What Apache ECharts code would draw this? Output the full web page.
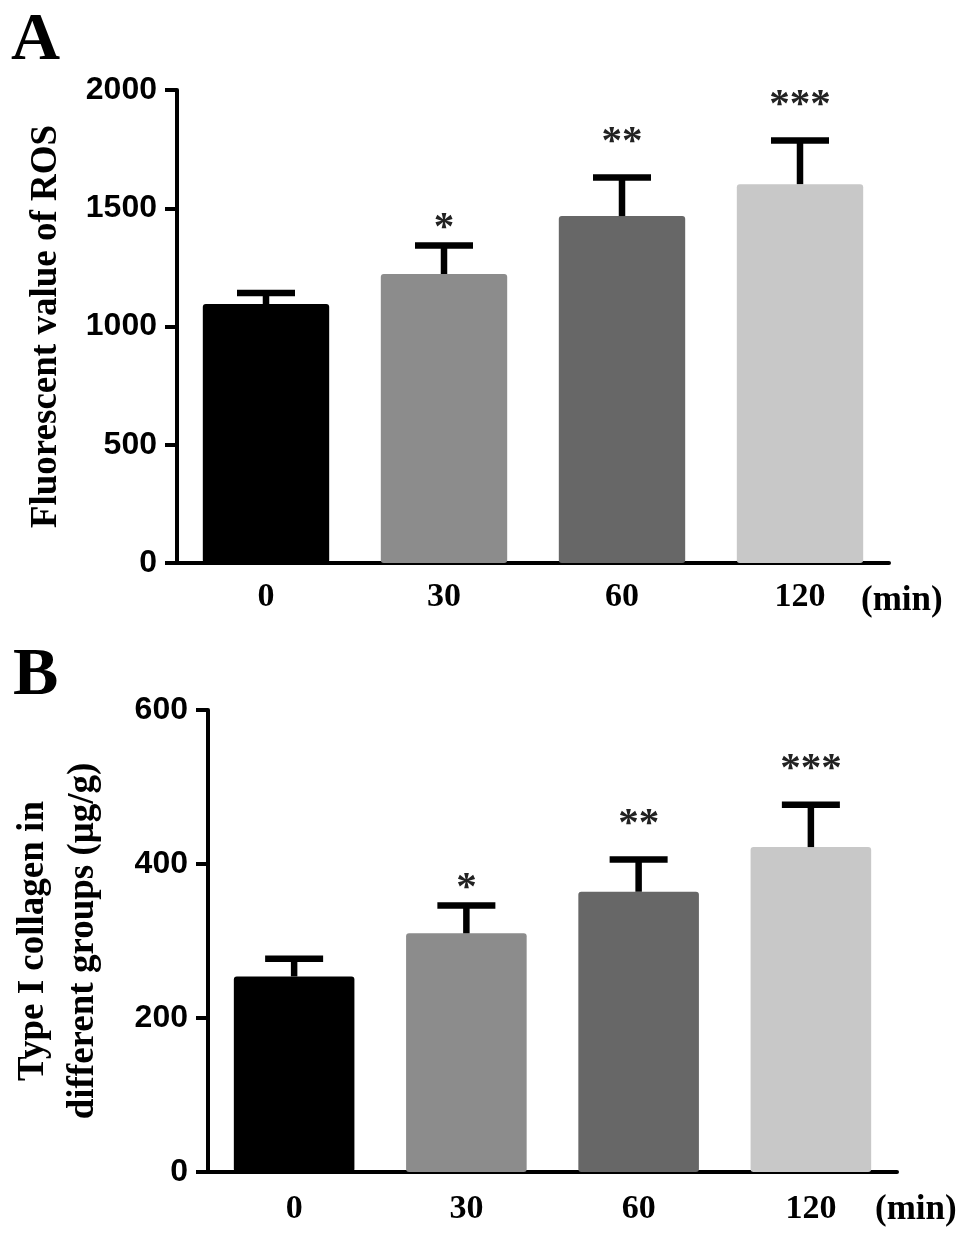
<!DOCTYPE html>
<html>
<head>
<meta charset="utf-8">
<script src="https://cdn.jsdelivr.net/npm/echarts@6/dist/echarts.min.js"></script>
<style>
html,body{margin:0;padding:0;background:#fff;}
#chart{width:969px;height:1239px;}
</style>
</head>
<body>
<div id="chart"></div>
<script>
const categories = ['0', '30', '60', '120'];
const barColors = ['#000000', '#8c8c8c', '#676767', '#c8c8c8'];
const rosValues = [1095, 1222, 1467, 1602];
const rosErrors = [47, 120, 163, 184];
const collagenValues = [254, 310, 364, 422];
const collagenErrors = [23, 36, 42, 55];
const stars = ['', '*', '**', '***'];
const rosTicks = [0, 500, 1000, 1500, 2000];
const collagenTicks = [0, 200, 400, 600];

const serif = '"Liberation Serif", "Times New Roman", serif';
const sans = '"Liberation Sans", Arial, sans-serif';

function errorSeries(idx, values, errors) {
  return {
    type: 'custom',
    xAxisIndex: idx,
    yAxisIndex: idx,
    z: 5,
    data: values.map((v, i) => [i, v, v + errors[i]]),
    renderItem: function (params, api) {
      const base = api.coord([api.value(0), api.value(1)]);
      const top = api.coord([api.value(0), api.value(2)]);
      const s = stars[params.dataIndex];
      const children = [
        {type: 'line', shape: {x1: base[0], y1: base[1], x2: top[0], y2: top[1]},
         style: {stroke: '#000', lineWidth: 6.5}},
        {type: 'line', shape: {x1: top[0] - 29, y1: top[1], x2: top[0] + 29, y2: top[1]},
         style: {stroke: '#000', lineWidth: 6.5}}
      ];
      if (s) {
        children.push({type: 'text', x: top[0], y: top[1] - (s.length > 1 ? 35 : 17),
          style: {text: s, fill: '#222', font: 'bold 41px ' + serif, align: 'center', verticalAlign: 'middle'}});
      }
      return {type: 'group', children: children};
    }
  };
}

const axisLineStyle = {color: '#000', width: 4};

function xAxisFor(i, margin) {
  return {
    type: 'category',
    gridIndex: i,
    data: categories,
    axisLine: {lineStyle: axisLineStyle},
    axisTick: {alignWithLabel: true, length: 9, lineStyle: {width: 4, color: '#000'}},
    axisLabel: {color: '#000', fontFamily: serif, fontWeight: 'bold', fontSize: 34, margin: margin}
  };
}

const option = {
  animation: false,
  backgroundColor: '#fff',
  grid: [
    {left: 177, right: 80, top: 90, bottom: 676},
    {left: 203, right: 72, top: 710, bottom: 67}
  ],
  xAxis: [xAxisFor(0, 17), xAxisFor(1, 20)],
  yAxis: [
    {
      type: 'value', gridIndex: 0, min: 0, max: 2000, interval: 500,
      name: 'Fluorescent value of ROS', nameLocation: 'middle', nameGap: 112, nameRotate: 90,
      nameTextStyle: {color: '#000', fontFamily: serif, fontWeight: 'bold', fontSize: 37},
      axisLine: {show: true, lineStyle: axisLineStyle},
      axisTick: {show: true, length: 12, lineStyle: {width: 4, color: '#000'}},
      splitLine: {show: false},
      axisLabel: {color: '#000', fontFamily: sans, fontWeight: 'bold', fontSize: 32, margin: 20,
        formatter: v => rosTicks.includes(v) ? String(v) : ''}
    },
    {
      type: 'value', gridIndex: 1, min: 0, max: 600, interval: 200,
      name: 'Type I collagen in\ndifferent groups (μg/g)', nameLocation: 'middle', nameGap: 100, nameRotate: 90,
      nameTextStyle: {color: '#000', fontFamily: serif, fontWeight: 'bold', fontSize: 37, lineHeight: 50},
      axisLine: {show: true, lineStyle: axisLineStyle},
      axisTick: {show: true, length: 12, lineStyle: {width: 4, color: '#000'}},
      splitLine: {show: false},
      axisLabel: {color: '#000', fontFamily: sans, fontWeight: 'bold', fontSize: 32, margin: 20,
        formatter: v => collagenTicks.includes(v) ? String(v) : ''}
    }
  ],
  graphic: [
    {type: 'text', left: 11, top: 7, style: {text: 'A', font: 'bold 68px ' + serif, fill: '#000'}},
    {type: 'text', left: 13, top: 642, style: {text: 'B', font: 'bold 68px ' + serif, fill: '#000'}},
    {type: 'text', left: 861, top: 583, style: {text: '(min)', font: 'bold 35px ' + serif, fill: '#000'}},
    {type: 'text', left: 875, top: 1192, style: {text: '(min)', font: 'bold 35px ' + serif, fill: '#000'}}
  ],
  series: [
    {
      type: 'bar', xAxisIndex: 0, yAxisIndex: 0, barWidth: '71%',
      data: rosValues.map((v, i) => ({value: v, itemStyle: {color: barColors[i], borderRadius: 3}}))
    },
    {
      type: 'bar', xAxisIndex: 1, yAxisIndex: 1, barWidth: '70%',
      data: collagenValues.map((v, i) => ({value: v, itemStyle: {color: barColors[i], borderRadius: 3}}))
    },
    errorSeries(0, rosValues, rosErrors),
    errorSeries(1, collagenValues, collagenErrors)
  ]
};

const chart = echarts.init(document.getElementById('chart'), null, {renderer: 'canvas'});
chart.setOption(option);
</script>
</body>
</html>
